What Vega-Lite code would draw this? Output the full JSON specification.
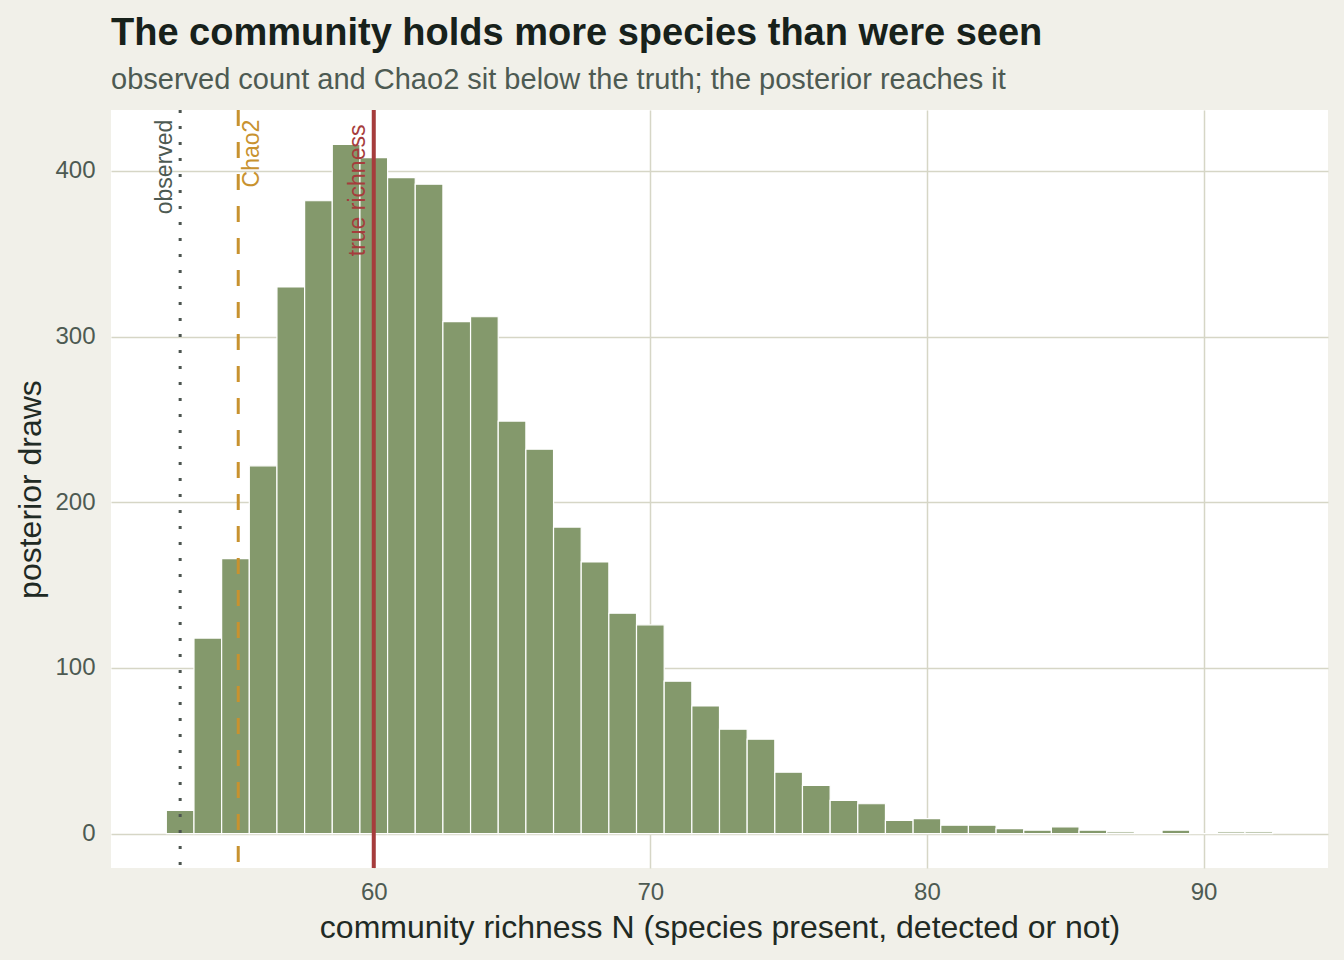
{
  "$schema": "https://vega.github.io/schema/vega-lite/v6.json",
  "width": 1217,
  "height": 758,
  "autosize": {"type": "none"},
  "padding": {"left": 111, "top": 110, "right": 16, "bottom": 92},
  "background": "#f1f0e9",
  "config": {
    "font": "Liberation Sans",
    "view": {"fill": "#ffffff", "stroke": null},
    "axis": {
      "grid": true,
      "gridColor": "#d6d6c6",
      "gridWidth": 1.5,
      "domain": false,
      "ticks": false,
      "labelFont": "Liberation Sans",
      "labelFontSize": 24,
      "labelColor": "#4d5a52",
      "titleFont": "Liberation Sans",
      "titleFontSize": 32,
      "titleFontWeight": "normal",
      "titleColor": "#1f2a24"
    },
    "title": {
      "font": "Liberation Sans",
      "fontSize": 38,
      "fontWeight": "bold",
      "color": "#17211b",
      "subtitleFont": "Liberation Sans",
      "subtitleFontSize": 29,
      "subtitleColor": "#4d5a52",
      "anchor": "start",
      "frame": "group",
      "offset": 13,
      "subtitlePadding": 13
    }
  },
  "title": {
    "text": "The community holds more species than were seen",
    "subtitle": "observed count and Chao2 sit below the truth; the posterior reaches it"
  },
  "datasets": {
    "draws": [
      {"N": 53, "draws": 14}, {"N": 54, "draws": 118}, {"N": 55, "draws": 166},
      {"N": 56, "draws": 222}, {"N": 57, "draws": 330}, {"N": 58, "draws": 382},
      {"N": 59, "draws": 416}, {"N": 60, "draws": 408}, {"N": 61, "draws": 396},
      {"N": 62, "draws": 392}, {"N": 63, "draws": 309}, {"N": 64, "draws": 312},
      {"N": 65, "draws": 249}, {"N": 66, "draws": 232}, {"N": 67, "draws": 185},
      {"N": 68, "draws": 164}, {"N": 69, "draws": 133}, {"N": 70, "draws": 126},
      {"N": 71, "draws": 92}, {"N": 72, "draws": 77}, {"N": 73, "draws": 63},
      {"N": 74, "draws": 57}, {"N": 75, "draws": 37}, {"N": 76, "draws": 29},
      {"N": 77, "draws": 20}, {"N": 78, "draws": 18}, {"N": 79, "draws": 8},
      {"N": 80, "draws": 9}, {"N": 81, "draws": 5}, {"N": 82, "draws": 5},
      {"N": 83, "draws": 3}, {"N": 84, "draws": 2}, {"N": 85, "draws": 4},
      {"N": 86, "draws": 2}, {"N": 87, "draws": 1}, {"N": 88, "draws": 0},
      {"N": 89, "draws": 2}, {"N": 90, "draws": 0}, {"N": 91, "draws": 1},
      {"N": 92, "draws": 1}
    ],
    "refs": [
      {"label": "observed", "N": 53},
      {"label": "Chao2", "N": 55.1},
      {"label": "true richness", "N": 60}
    ]
  },
  "layer": [
    {
      "data": {"name": "draws"},
      "transform": [
        {"bin": {"step": 1, "extent": [52.5, 92.5], "nice": false}, "field": "N", "as": ["lo", "hi"]}
      ],
      "mark": {"type": "rect", "fill": "#84996c", "stroke": "#ffffff", "strokeWidth": 1.2},
      "encoding": {
        "x": {
          "field": "lo",
          "type": "quantitative",
          "scale": {"domain": [50.5, 94.5], "nice": false, "zero": false},
          "axis": {
            "values": [60, 70, 80, 90],
            "labelPadding": 12,
            "titlePadding": 8,
            "title": "community richness N (species present, detected or not)"
          }
        },
        "x2": {"field": "hi"},
        "y": {
          "field": "draws",
          "type": "quantitative",
          "scale": {"domain": [-20.8, 436.8], "nice": false, "zero": false},
          "axis": {
            "values": [0, 100, 200, 300, 400],
            "labelPadding": 16,
            "titlePadding": 7,
            "title": "posterior draws"
          }
        },
        "y2": {"datum": 0}
      }
    },
    {
      "data": {"name": "refs"},
      "transform": [{"filter": "datum.label === 'observed'"}],
      "mark": {"type": "rule", "stroke": "#4d5550", "strokeWidth": 3, "strokeDash": [3, 13]},
      "encoding": {"x": {"field": "N", "type": "quantitative"}}
    },
    {
      "data": {"name": "refs"},
      "transform": [{"filter": "datum.label === 'Chao2'"}],
      "mark": {"type": "rule", "stroke": "#c8922f", "strokeWidth": 3, "strokeDash": [16, 16]},
      "encoding": {"x": {"field": "N", "type": "quantitative"}}
    },
    {
      "data": {"name": "refs"},
      "transform": [{"filter": "datum.label === 'true richness'"}],
      "mark": {"type": "rule", "stroke": "#a63c3c", "strokeWidth": 4},
      "encoding": {"x": {"field": "N", "type": "quantitative"}}
    },
    {
      "data": {"name": "refs"},
      "transform": [{"filter": "datum.label === 'observed'"}],
      "mark": {"type": "text", "angle": 270, "align": "right", "baseline": "bottom", "dy": -3, "fontSize": 23, "fill": "#4d5a52"},
      "encoding": {
        "x": {"field": "N", "type": "quantitative"},
        "y": {"datum": 431},
        "text": {"field": "label"}
      }
    },
    {
      "data": {"name": "refs"},
      "transform": [{"filter": "datum.label === 'Chao2'"}],
      "mark": {"type": "text", "angle": 270, "align": "right", "baseline": "top", "dy": 3, "fontSize": 23, "fill": "#c8922f"},
      "encoding": {
        "x": {"field": "N", "type": "quantitative"},
        "y": {"datum": 431},
        "text": {"field": "label"}
      }
    },
    {
      "data": {"name": "refs"},
      "transform": [{"filter": "datum.label === 'true richness'"}],
      "mark": {"type": "text", "angle": 270, "align": "right", "baseline": "bottom", "dy": -4, "fontSize": 23, "fill": "#a63c3c"},
      "encoding": {
        "x": {"field": "N", "type": "quantitative"},
        "y": {"datum": 428},
        "text": {"field": "label"}
      }
    }
  ]
}
